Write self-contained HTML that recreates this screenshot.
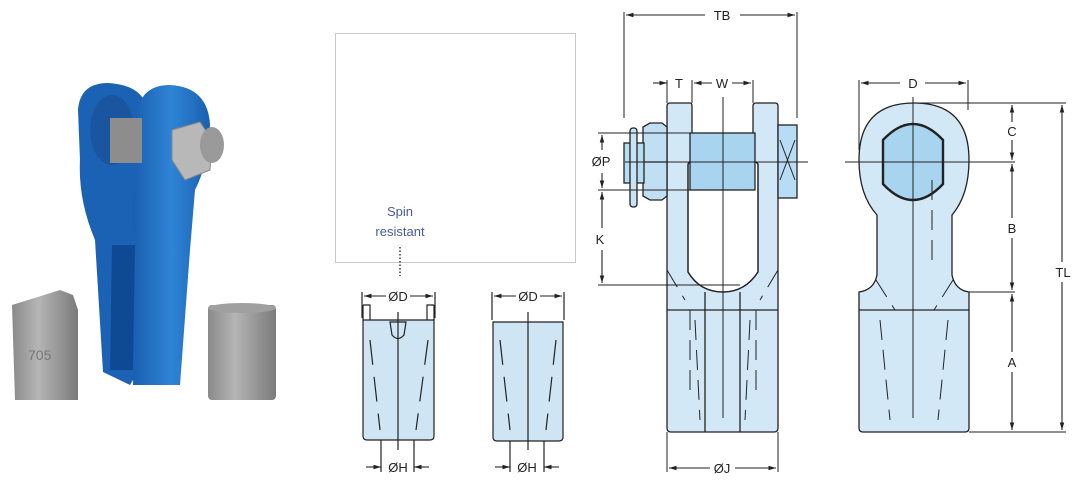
<!DOCTYPE html>
<html><head><meta charset="utf-8"><style>
html,body{margin:0;padding:0;background:#fff;width:1076px;height:483px;overflow:hidden}
svg{display:block}
text{font-family:"Liberation Sans",sans-serif;font-size:13px;fill:#222}
</style></head><body>
<svg width="1076" height="483" viewBox="0 0 1076 483" xmlns="http://www.w3.org/2000/svg">
<defs>
<linearGradient id="gb" x1="0" x2="1"><stop offset="0" stop-color="#1a5fb0"/><stop offset="0.5" stop-color="#2f84d6"/><stop offset="1" stop-color="#1a5fb0"/></linearGradient>
<linearGradient id="gg" x1="0" x2="1"><stop offset="0" stop-color="#8a8a8a"/><stop offset="0.4" stop-color="#b5b5b5"/><stop offset="1" stop-color="#7a7a7a"/></linearGradient>
<marker id="a" viewBox="0 0 10 10" refX="10" refY="5" markerWidth="7" markerHeight="7" orient="auto-start-reverse"><path d="M0,2 L10,5 L0,8z" fill="#222"/></marker>
</defs>
<!-- photo -->
<path d="M78,110 Q80,83 108,83 Q140,85 146,105 L145,360 L130,385 L103,372 L95,240 Q78,200 80,160z" fill="#1c62b4"/>
<ellipse cx="112" cy="130" rx="22" ry="35" fill="#1a56a0"/>
<path d="M137,115 Q140,85 170,85 Q208,87 210,125 Q208,165 195,190 L190,250 L180,385 L133,385 L135,250 Q130,200 137,160z" fill="url(#gb)"/>
<path d="M112,245 L135,245 L133,370 L110,370z" fill="#0e4a94"/>
<rect x="110" y="118" width="32" height="45" fill="#8d8d8d"/>
<polygon points="172,130 200,122 212,140 210,170 185,180 172,160" fill="#b8b8b8" stroke="#888"/>
<ellipse cx="212" cy="145" rx="12" ry="18" fill="#9a9a9a"/>
<path d="M12,305 L60,290 L73,295 L78,310 L78,400 L15,400z" fill="url(#gg)"/>
<text x="28" y="360" style="font-size:14px;fill:#777">705</text>
<rect x="208" y="305" width="68" height="95" rx="4" fill="url(#gg)"/>
<ellipse cx="242" cy="308" rx="34" ry="5" fill="#a0a0a0"/>
<!-- box -->
<rect x="335.5" y="33.5" width="240" height="229" fill="none" stroke="#c8c8c8"/>
<text x="400" y="216" text-anchor="middle" style="font-size:13px;fill:#4a5a9a">Spin</text>
<text x="400" y="236" text-anchor="middle" style="font-size:13px;fill:#4a5a9a">resistant</text>
<line x1="400" y1="247" x2="400" y2="276" stroke="#334" stroke-width="1.5" stroke-dasharray="1.5,2"/>
<!-- sleeve 1 -->
<g stroke="#222" stroke-width="1.2" fill="none">
<path d="M363,320 L434,320 L434,436 Q434,440 430,440 L367,440 Q363,440 363,436z" fill="#cfe5f4"/>
<path d="M363,305 L370,305 L370,320 M434,305 L427,305 L427,320"/>
<path d="M363,320 L363,305"/><path d="M434,320 L434,305"/>
<line x1="398" y1="312" x2="398" y2="450"/>
<path d="M390,322 L406,322 L404,335 Q398,342 392,335z"/>
<line x1="381" y1="440" x2="381" y2="472"/><line x1="414" y1="440" x2="414" y2="472"/>
<line x1="362" y1="292" x2="362" y2="318"/><line x1="435" y1="292" x2="435" y2="318"/>
<line x1="370" y1="340" x2="380" y2="430" stroke-dasharray="25,12"/>
<line x1="428" y1="340" x2="416" y2="430" stroke-dasharray="25,12"/>
<!-- sleeve 2 -->
<path d="M493,322 L563,322 L563,437 Q563,441 559,441 L497,441 Q493,441 493,437z" fill="#cfe5f4"/>
<line x1="528" y1="312" x2="528" y2="450"/>
<line x1="510" y1="441" x2="510" y2="472"/><line x1="544" y1="441" x2="544" y2="472"/>
<line x1="492" y1="292" x2="492" y2="320"/><line x1="564" y1="292" x2="564" y2="320"/>
<line x1="500" y1="340" x2="510" y2="430" stroke-dasharray="25,12"/>
<line x1="556" y1="340" x2="546" y2="430" stroke-dasharray="25,12"/>
</g>
<g stroke="#222" stroke-width="1.1">
<line x1="364" y1="296" x2="386" y2="296" marker-start="url(#a)"/><line x1="410" y1="296" x2="433" y2="296" marker-end="url(#a)"/>
<line x1="494" y1="296" x2="516" y2="296" marker-start="url(#a)"/><line x1="540" y1="296" x2="562" y2="296" marker-end="url(#a)"/>
<line x1="366" y1="467" x2="381" y2="467" marker-end="url(#a)"/><line x1="429" y1="467" x2="414" y2="467" marker-end="url(#a)"/>
<line x1="495" y1="467" x2="510" y2="467" marker-end="url(#a)"/><line x1="559" y1="467" x2="544" y2="467" marker-end="url(#a)"/>
</g>
<text x="398" y="301" text-anchor="middle">ØD</text><text x="528" y="301" text-anchor="middle">ØD</text>
<text x="398" y="472" text-anchor="middle">ØH</text><text x="527" y="472" text-anchor="middle">ØH</text>
<!-- front view -->
<g stroke="#222" stroke-width="1.3">
<path d="M667,106 Q667,103 670,103 L690,103 Q692,103 692,106 L692,160 L753,160 L753,106 Q753,103 756,103 L775,103 Q778,103 778,106 L778,428 Q778,432 774,432 L671,432 Q667,432 667,428z" fill="#d3e8f6"/>
<path d="M688,165 Q688,162 692,162 L754,162 Q758,162 758,165 L758,272 Q745,292 723,292 Q700,292 688,272z" fill="#fff" stroke-width="1.5"/>
<path d="M692,162 L754,162 L754,272 Q742,288 723,288 Q703,288 692,272z" fill="#fff" stroke="none"/>
<path d="M705,292 L705,432 M740,292 L740,432" fill="none"/>
<line x1="667" y1="310" x2="778" y2="310"/>
<rect x="690" y="133" width="65" height="57" fill="#a9d4f0"/>
<path d="M643,127 L650,123 L662,123 L667,127 L667,196 L662,200 L650,200 L643,196z" fill="#c0dff3"/>
<line x1="643" y1="162" x2="667" y2="162"/>
<rect x="624" y="143" width="20" height="40" fill="#b8dcf3"/>
<rect x="630" y="128" width="7" height="79" rx="3" fill="#c8e3f5"/>
<rect x="778" y="125" width="19" height="73" fill="#b8dcf3"/>
<path d="M780,140 L795,180 M795,140 L780,180" fill="none" stroke-width="1"/>
</g>
<g stroke="#222" stroke-width="1" fill="none">
<line x1="723" y1="97" x2="723" y2="418"/>
<line x1="625" y1="162" x2="808" y2="162"/>
<line x1="598" y1="133" x2="755" y2="133"/>
<line x1="598" y1="190" x2="755" y2="190"/>
<line x1="598" y1="285" x2="740" y2="285"/>
<line x1="624" y1="12" x2="624" y2="118"/><line x1="797" y1="12" x2="797" y2="118"/>
<line x1="667" y1="80" x2="667" y2="103"/><line x1="692" y1="80" x2="692" y2="103"/><line x1="753" y1="80" x2="753" y2="103"/>
<line x1="667" y1="432" x2="667" y2="472"/><line x1="778" y1="432" x2="778" y2="472"/>
<path d="M667,270 L685,300 M778,270 L760,300 M695,320 L700,420 M750,320 L745,420" stroke-dasharray="20,10"/>
<path d="M690,310 L690,400 M756,310 L756,400" stroke-dasharray="20,10"/>
</g>
<g stroke="#222" stroke-width="1.1">
<line x1="705" y1="15" x2="626" y2="15" marker-end="url(#a)"/><line x1="740" y1="15" x2="795" y2="15" marker-end="url(#a)"/>
<line x1="653" y1="83" x2="667" y2="83" marker-end="url(#a)"/>
<line x1="712" y1="83" x2="694" y2="83" marker-end="url(#a)"/><line x1="732" y1="83" x2="751" y2="83" marker-end="url(#a)"/>
<line x1="602" y1="150" x2="602" y2="135" marker-end="url(#a)"/><line x1="602" y1="173" x2="602" y2="188" marker-end="url(#a)"/>
<line x1="602" y1="228" x2="602" y2="192" marker-end="url(#a)"/><line x1="602" y1="250" x2="602" y2="283" marker-end="url(#a)"/>
<line x1="710" y1="468" x2="669" y2="468" marker-end="url(#a)"/><line x1="735" y1="468" x2="776" y2="468" marker-end="url(#a)"/>
</g>
<text x="722" y="20" text-anchor="middle">TB</text>
<text x="679" y="88" text-anchor="middle">T</text>
<text x="722" y="88" text-anchor="middle">W</text>
<text x="601" y="166" text-anchor="middle">ØP</text>
<text x="600" y="244" text-anchor="middle">K</text>
<text x="722" y="473" text-anchor="middle">ØJ</text>
<!-- side view -->
<g stroke="#222" stroke-width="1.3">
<path d="M877,275 L877,215 Q859,195 859,160 Q859,103 914,103 Q969,103 969,160 Q969,195 952,215 L952,275 Q955,290 969,292 L969,428 Q969,432 965,432 L863,432 Q859,432 859,428 L859,292 Q874,290 877,275z" fill="#d3e8f6"/>
<path d="M883,140 Q913,108 943,140 L943,184 Q913,216 883,184z" fill="#a9d4f0" stroke-width="2.4"/>
<line x1="859" y1="310" x2="969" y2="310"/>
</g>
<g stroke="#222" stroke-width="1" fill="none">
<line x1="913" y1="97" x2="913" y2="418"/>
<line x1="845" y1="162" x2="1015" y2="162"/>
<line x1="913" y1="103" x2="1066" y2="103"/>
<line x1="969" y1="292" x2="1015" y2="292"/>
<line x1="969" y1="432" x2="1066" y2="432"/>
<line x1="859" y1="80" x2="859" y2="150"/><line x1="968" y1="80" x2="968" y2="110"/>
<path d="M876,280 L895,310 M953,280 L934,310 M880,320 L890,420 M948,320 L938,420 M932,180 L932,260" stroke-dasharray="20,10"/>
</g>
<g stroke="#222" stroke-width="1.1">
<line x1="900" y1="83" x2="861" y2="83" marker-end="url(#a)"/><line x1="925" y1="83" x2="966" y2="83" marker-end="url(#a)"/>
<line x1="1012" y1="122" x2="1012" y2="105" marker-end="url(#a)"/><line x1="1012" y1="140" x2="1012" y2="160" marker-end="url(#a)"/>
<line x1="1012" y1="218" x2="1012" y2="164" marker-end="url(#a)"/><line x1="1012" y1="238" x2="1012" y2="290" marker-end="url(#a)"/>
<line x1="1012" y1="352" x2="1012" y2="294" marker-end="url(#a)"/><line x1="1012" y1="372" x2="1012" y2="430" marker-end="url(#a)"/>
<line x1="1062" y1="262" x2="1062" y2="105" marker-end="url(#a)"/><line x1="1062" y1="282" x2="1062" y2="430" marker-end="url(#a)"/>
</g>
<text x="913" y="88" text-anchor="middle">D</text>
<text x="1012" y="136" text-anchor="middle">C</text>
<text x="1012" y="233" text-anchor="middle">B</text>
<text x="1012" y="367" text-anchor="middle">A</text>
<text x="1063" y="277" text-anchor="middle">TL</text>
</svg>
</body></html>
